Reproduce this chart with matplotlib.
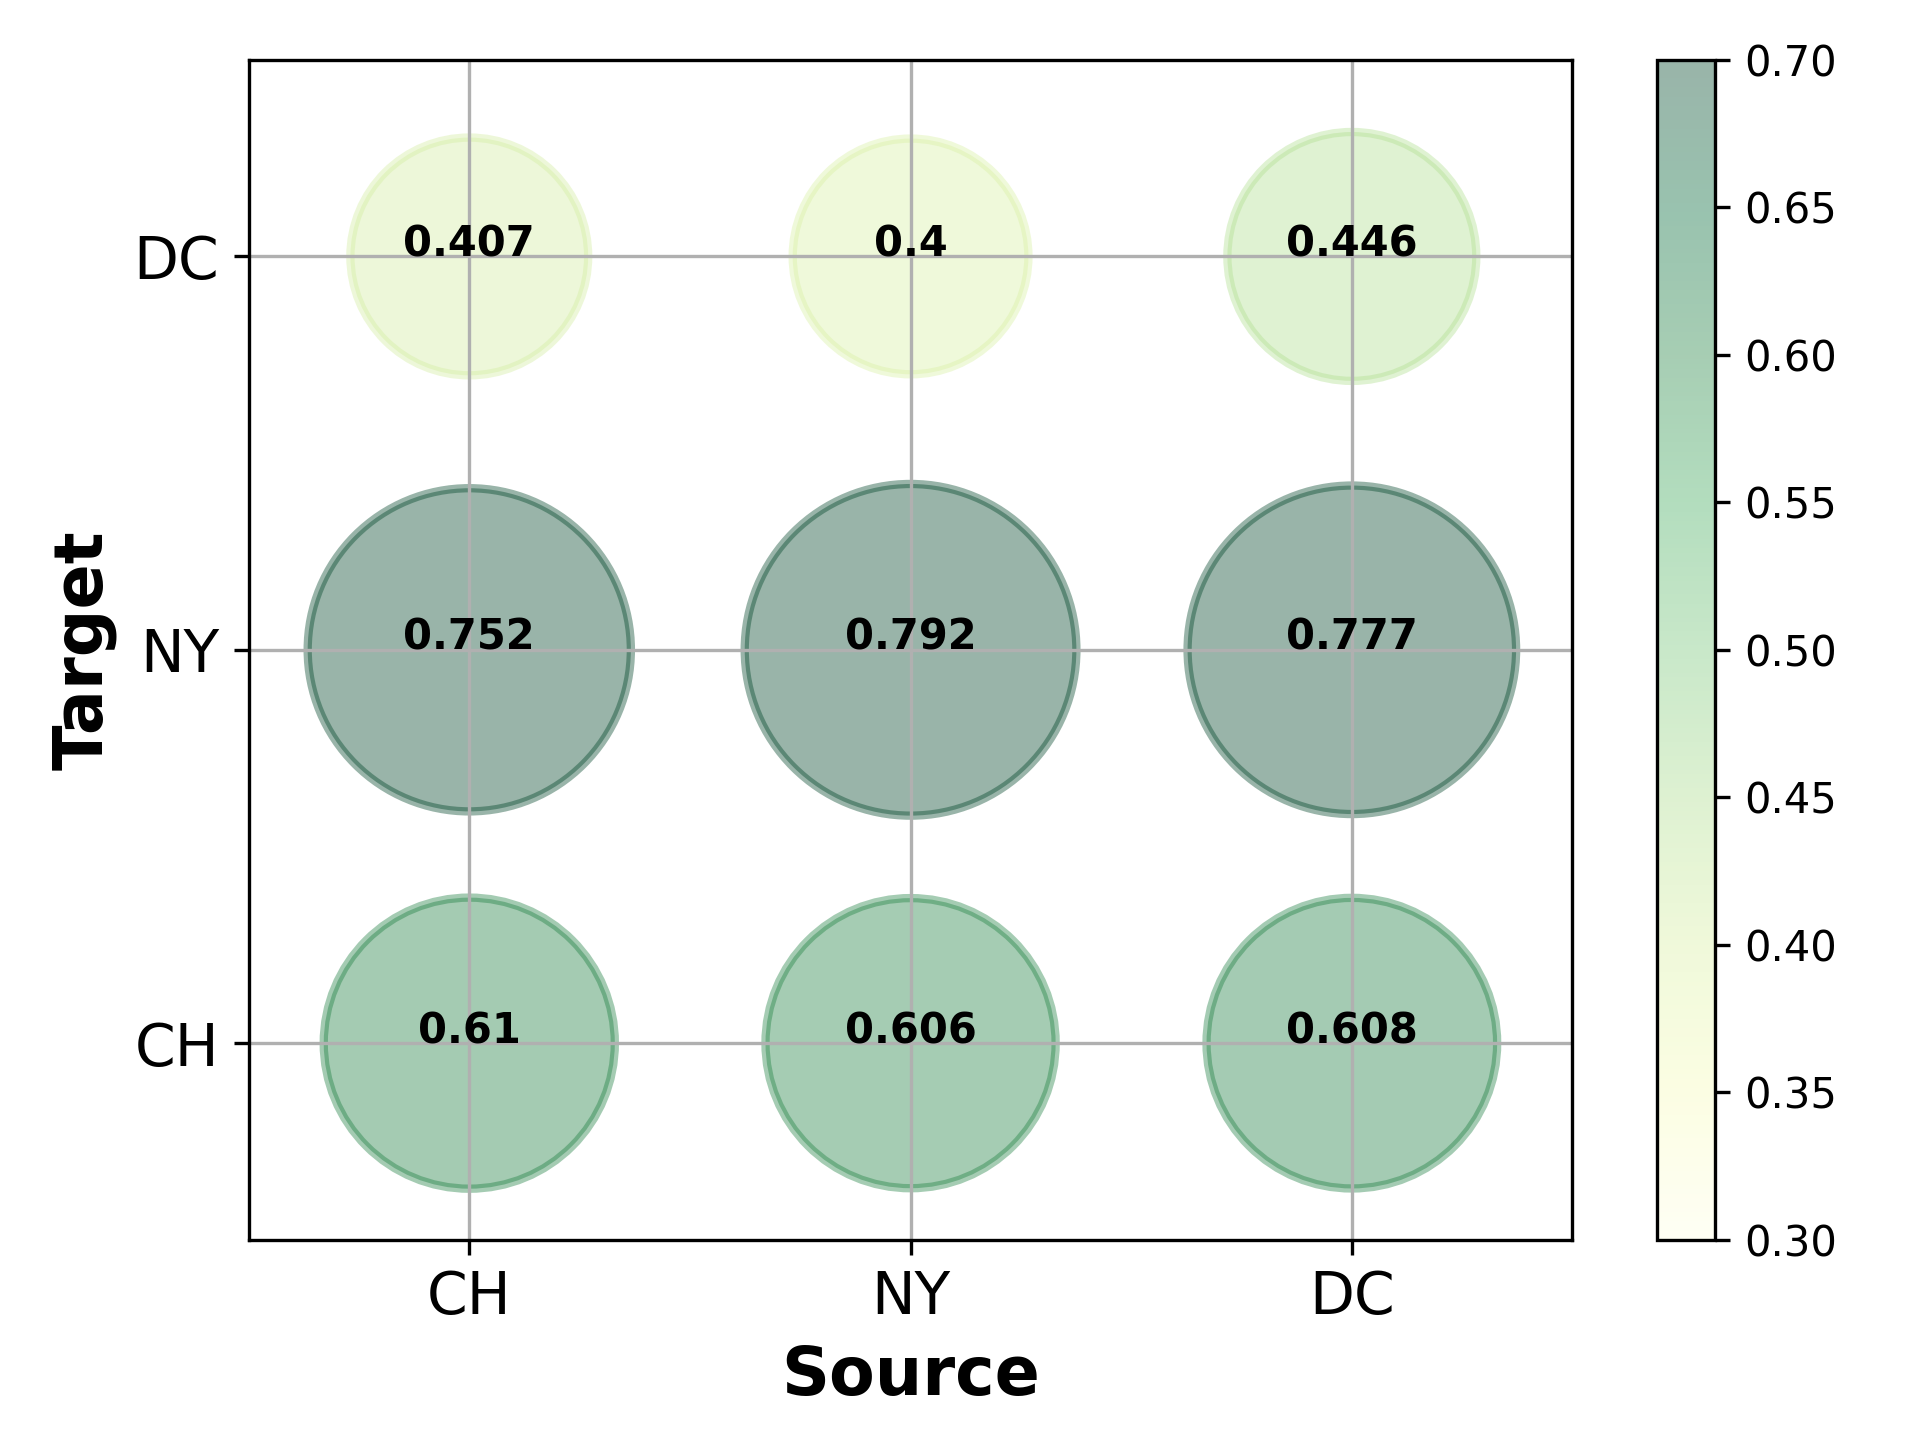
import numpy as np
import matplotlib
matplotlib.use('Agg')
import matplotlib.pyplot as plt

sources = ['CH', 'NY', 'DC']
targets = ['CH', 'NY', 'DC']

# rows = target (CH, NY, DC), cols = source (CH, NY, DC)
vals_ch = [0.61, 0.606, 0.608]
vals_ny = [0.752, 0.792, 0.777]
vals_dc = [0.407, 0.4, 0.446]
vals = np.array([vals_ch, vals_ny, vals_dc])

xx, yy = np.meshgrid(np.arange(len(sources)), np.arange(len(targets)))
xx = xx.ravel()
yy = yy.ravel()
v = vals.ravel()

fig = plt.figure(figsize=(6.4, 4.8), dpi=300)
ax = fig.add_axes([0.1295, 0.139, 0.6895, 0.8195])
cax = fig.add_axes([0.863, 0.139, 0.0303, 0.8195])

sc = ax.scatter(xx, yy, s=v * 8000, c=v, cmap='YlGn', vmin=0.3, vmax=0.7,
                alpha=0.4, edgecolors='face', linewidths=2)

for x, y, val in zip(xx, yy, v):
    ax.text(x, y, str(val), ha='center', va='baseline',
            fontsize=10, fontweight='bold', zorder=3)

ax.set_xlim(-0.5, 2.5)
ax.set_ylim(-0.5, 2.5)
ax.set_xticks(range(len(sources)))
ax.set_xticklabels(sources, fontsize=14)
ax.set_yticks(range(len(targets)))
ax.set_yticklabels(targets, fontsize=14)
ax.set_xlabel('Source', fontsize=16, fontweight='bold')
ax.set_ylabel('Target', fontsize=16, fontweight='bold')
ax.grid(True)

cb = fig.colorbar(sc, cax=cax)
cb.ax.tick_params(labelsize=10)

plt.savefig('out.png')
